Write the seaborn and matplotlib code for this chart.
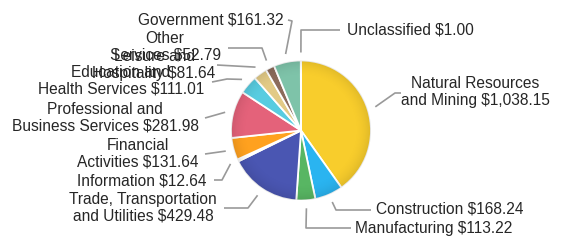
"""
Payroll by industry sector - pie chart with leader lines.
"""
import numpy as np
import matplotlib
matplotlib.use('Agg')
import matplotlib.pyplot as plt
import seaborn as sns
from matplotlib.patches import Circle

sectors = ["Natural Resources\nand Mining", "Construction", "Manufacturing",
           "Trade, Transportation\nand Utilities", "Information",
           "Financial\nActivities", "Professional and\nBusiness Services",
           "Education and\nHealth Services", "Leisure and\nHospitality",
           "Other\nServices", "Government", "Unclassified"]
amounts = [1038.15, 168.24, 113.22, 429.48, 12.64, 131.64,
           281.98, 111.01, 81.64, 52.79, 161.32, 1.00]
colors = ["#F8CD2C", "#2AB4F0", "#58B663", "#4A56B2", "#F4F4F4", "#FFA11F",
          "#E4627A", "#58CCE0", "#E2CA86", "#8C6B5B", "#7EC3A9", "#C8C8C8"]

# label layout in pixel coords (x, y from top): text centre, then leader bend points
label_pos = [(475, 92), (450, 209), (434, 228), (143, 208), (142, 181),
             (138, 154), (105, 118), (121, 81), (154, 65), (165, 47),
             (211, 20), (410, 30)]
leader_pts = [[(395, 93), (401, 93)], [(336, 210), (371, 210)],
              [(306, 228), (351, 228)], [(248, 208), (224, 208)],
              [(222, 180), (214, 180)], [(205, 154)], [(205, 118)],
              [(227, 79), (212, 82)], [(217, 65)], [(262, 48), (228, 48)],
              [(292, 21), (288, 20)], [(301, 30), (340, 30)]]

W, H = 565, 249
cx, cy, radius = 301, 130.5, 70

sns.set_style("white")
plt.rcParams['font.family'] = ['Liberation Sans', 'DejaVu Sans']

fig = plt.figure(figsize=(W / 100, H / 100), dpi=100)
ax = fig.add_axes([0, 0, 1, 1])

wedges, _ = ax.pie(amounts, colors=colors, center=(cx, H - cy), radius=radius,
                   startangle=90, counterclock=False,
                   wedgeprops=dict(edgecolor='white', linewidth=1.3))

# soft rim shading over the pie
g = np.linspace(-1, 1, 200)
gx, gy = np.meshgrid(g, g)
rr = np.sqrt(gx ** 2 + gy ** 2)
shade = np.zeros((200, 200, 4))
shade[..., 3] = np.clip((rr - 0.75) / 0.25, 0, 1) ** 2 * 0.10
img = ax.imshow(shade, extent=(cx - radius, cx + radius, H - cy - radius, H - cy + radius),
                zorder=3, interpolation='bilinear')
img.set_clip_path(Circle((cx, H - cy), radius, transform=ax.transData))

# leader lines start just outside the wedge mid-angle
total = float(np.sum(amounts))
cum = np.cumsum(amounts) - np.array(amounts) / 2
for i, name in enumerate(sectors):
    theta = np.deg2rad(cum[i] / total * 360)
    sx, sy = cx + 78 * np.sin(theta), cy - 78 * np.cos(theta)
    pts = [(sx, sy)] + leader_pts[i]
    xs = [p[0] for p in pts]
    ys = [H - p[1] for p in pts]
    ax.plot(xs, ys, color='#999999', lw=1.2, solid_capstyle='butt')
    tx, ty = label_pos[i]
    ax.text(tx, H - ty, f"{name} \\${amounts[i]:,.2f}", ha='center',
            va='center', fontsize=11.2, color='#262626', linespacing=1.1,
            multialignment='center')

ax.set_xlim(0, W)
ax.set_ylim(0, H)
ax.set_aspect('equal')
ax.axis('off')

plt.savefig("out.png", dpi=100)
plt.close()
